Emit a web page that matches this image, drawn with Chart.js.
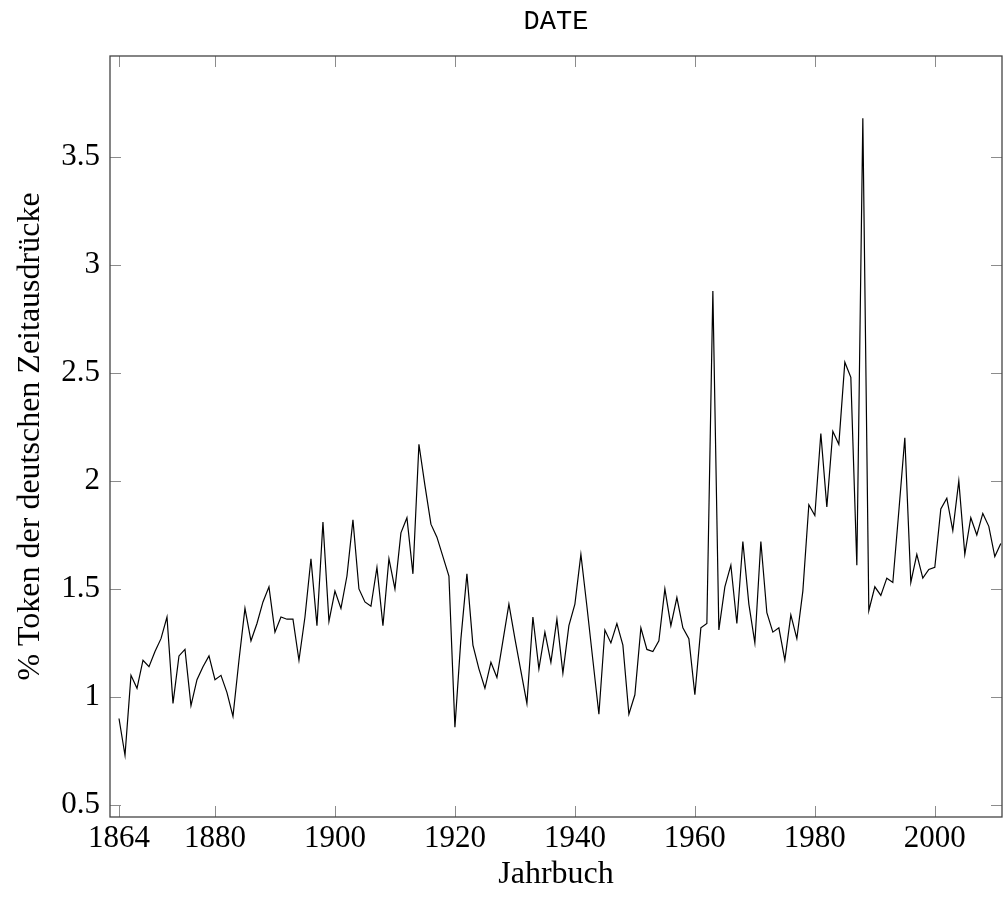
<!DOCTYPE html>
<html>
<head>
<meta charset="utf-8">
<script src="https://cdn.jsdelivr.net/npm/chart.js@4.4.1/dist/chart.umd.min.js"></script>
<style>
  html, body { margin: 0; padding: 0; background: #fff; }
  canvas { display: block; }
</style>
</head>
<body>
<canvas id="chart" width="1003" height="899"></canvas>
<script>
// Jahrbuch years and share (%) of DATE tokens among German temporal expressions
const years = [
  1864, 1865, 1866, 1867, 1868, 1869, 1870, 1871, 1872, 1873, 1874, 1875, 1876, 1877, 1878, 1879,
  1880, 1881, 1882, 1883, 1884, 1885, 1886, 1887, 1888, 1889, 1890, 1891, 1892, 1893, 1894, 1895,
  1896, 1897, 1898, 1899, 1900, 1901, 1902, 1903, 1904, 1905, 1906, 1907, 1908, 1909, 1910, 1911,
  1912, 1913, 1914, 1915, 1916, 1917, 1918, 1919, 1920, 1921, 1922, 1923, 1924, 1925, 1926, 1927,
  1928, 1929, 1930, 1931, 1932, 1933, 1934, 1935, 1936, 1937, 1938, 1939, 1940, 1941, 1942, 1943,
  1944, 1945, 1946, 1947, 1948, 1949, 1950, 1951, 1952, 1953, 1954, 1955, 1956, 1957, 1958, 1959,
  1960, 1961, 1962, 1963, 1964, 1965, 1966, 1967, 1968, 1969, 1970, 1971, 1972, 1973, 1974, 1975,
  1976, 1977, 1978, 1979, 1980, 1981, 1982, 1983, 1984, 1985, 1986, 1987, 1988, 1989, 1990, 1991,
  1992, 1993, 1994, 1995, 1996, 1997, 1998, 1999, 2000, 2001, 2002, 2003, 2004, 2005, 2006, 2007,
  2008, 2009, 2010, 2011
];
const dateShare = [
  0.90, 0.73, 1.10, 1.04, 1.17, 1.14, 1.21, 1.27, 1.37, 0.97, 1.19, 1.22, 0.96, 1.08, 1.14, 1.19,
  1.08, 1.10, 1.02, 0.91, 1.17, 1.41, 1.26, 1.34, 1.44, 1.51, 1.30, 1.37, 1.36, 1.36, 1.17, 1.37,
  1.64, 1.33, 1.81, 1.35, 1.49, 1.41, 1.56, 1.82, 1.50, 1.44, 1.42, 1.60, 1.33, 1.64, 1.50, 1.76,
  1.83, 1.57, 2.17, 1.98, 1.80, 1.74, 1.65, 1.56, 0.86, 1.27, 1.57, 1.24, 1.13, 1.04, 1.16, 1.09,
  1.26, 1.43, 1.27, 1.12, 0.97, 1.37, 1.13, 1.30, 1.16, 1.36, 1.11, 1.33, 1.43, 1.66, 1.42, 1.17,
  0.92, 1.31, 1.25, 1.34, 1.24, 0.92, 1.01, 1.32, 1.22, 1.21, 1.26, 1.50, 1.33, 1.46, 1.32, 1.27,
  1.01, 1.32, 1.34, 2.88, 1.31, 1.51, 1.61, 1.34, 1.72, 1.43, 1.25, 1.72, 1.39, 1.30, 1.32, 1.17,
  1.38, 1.27, 1.49, 1.89, 1.84, 2.22, 1.88, 2.23, 2.17, 2.55, 2.48, 1.61, 3.68, 1.40, 1.51, 1.47,
  1.55, 1.53, 1.86, 2.20, 1.53, 1.66, 1.55, 1.59, 1.60, 1.87, 1.92, 1.77, 2.00, 1.66, 1.83, 1.75,
  1.85, 1.79, 1.65, 1.71
];
const xTickValues = [1864, 1880, 1900, 1920, 1940, 1960, 1980, 2000];
const yTickValues = [0.5, 1, 1.5, 2, 2.5, 3, 3.5];

const serif = "'Liberation Serif', 'DejaVu Serif', serif";

// pgfplots-like box with inward ticks on all four sides
const frameTicks = {
  id: 'frameTicks',
  afterDraw(chart) {
    const { ctx, chartArea: a, scales } = chart;
    const len = 11;
    ctx.save();
    ctx.strokeStyle = '#8c8c8c';
    ctx.lineWidth = 1;
    ctx.beginPath();
    xTickValues.forEach(v => {
      const px = Math.round(scales.x.getPixelForValue(v)) + 0.5;
      ctx.moveTo(px, a.bottom); ctx.lineTo(px, a.bottom - len);
      ctx.moveTo(px, a.top); ctx.lineTo(px, a.top + len);
    });
    yTickValues.forEach(v => {
      const py = Math.round(scales.y.getPixelForValue(v)) + 0.5;
      ctx.moveTo(a.left, py); ctx.lineTo(a.left + len, py);
      ctx.moveTo(a.right, py); ctx.lineTo(a.right - len, py);
    });
    ctx.stroke();
    ctx.strokeStyle = '#444';
    ctx.lineWidth = 1.3;
    ctx.strokeRect(a.left, a.top, a.right - a.left, a.bottom - a.top);
    ctx.restore();
  }
};

new Chart(document.getElementById('chart'), {
  type: 'line',
  data: {
    datasets: [{
      data: years.map((y, i) => ({ x: y, y: dateShare[i] })),
      borderColor: '#000',
      borderWidth: 1.2,
      pointRadius: 0,
      tension: 0,
      fill: false
    }]
  },
  options: {
    responsive: false,
    animation: false,
    devicePixelRatio: 1,
    layout: { padding: { left: 0, right: 1, top: 0, bottom: 0 } },
    plugins: {
      legend: { display: false },
      tooltip: { enabled: false },
      title: {
        display: true,
        fullSize: false,
        text: 'DATE',
        color: '#000',
        font: { family: "'Liberation Mono', 'DejaVu Sans Mono', monospace", size: 27, weight: 'normal' },
        padding: { top: 6, bottom: 17.6 }
      }
    },
    scales: {
      x: {
        type: 'linear',
        min: 1862.5,
        max: 2011.2,
        afterBuildTicks: axis => { axis.ticks = xTickValues.map(v => ({ value: v })); },
        afterFit: s => { s.height = 82; },
        grid: { display: false, drawTicks: false },
        border: { display: false },
        ticks: {
          autoSkip: false,
          maxRotation: 0,
          padding: 3,
          color: '#000',
          font: { family: serif, size: 31 },
          callback: v => String(v)
        },
        title: {
          display: true,
          text: 'Jahrbuch',
          color: '#000',
          font: { family: serif, size: 32 },
          padding: { top: 0, bottom: 5 }
        }
      },
      y: {
        min: 0.444,
        max: 3.968,
        afterBuildTicks: axis => { axis.ticks = yTickValues.map(v => ({ value: v })); },
        afterFit: s => { s.width = 110; },
        grid: { display: false, drawTicks: false },
        border: { display: false },
        ticks: {
          padding: 10,
          color: '#000',
          font: { family: serif, size: 31 },
          callback: v => String(v)
        },
        title: {
          display: true,
          text: '% Token der deutschen Zeitausdrücke',
          color: '#000',
          font: { family: serif, size: 32 },
          padding: { top: 11, bottom: 0 }
        }
      }
    }
  },
  plugins: [frameTicks]
});
</script>
</body>
</html>
